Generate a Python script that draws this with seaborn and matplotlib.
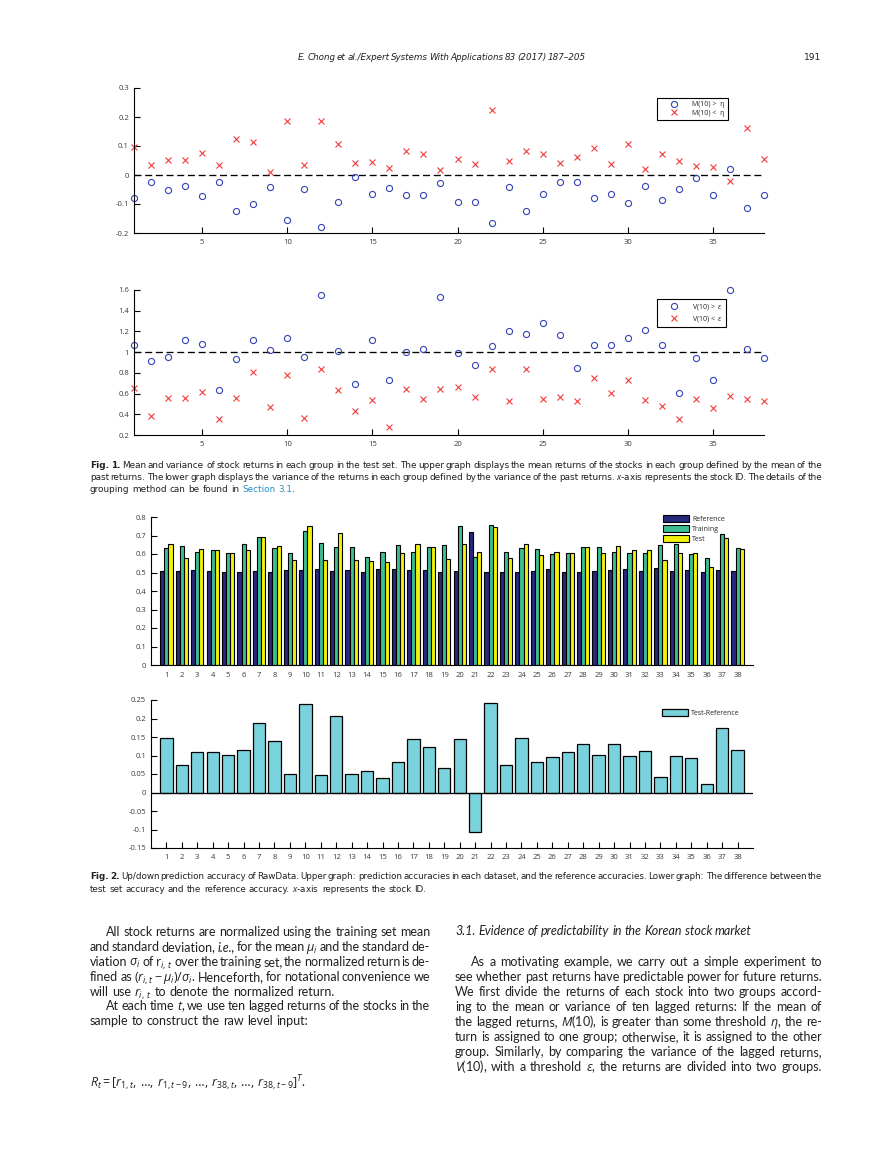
import numpy as np
import pandas as pd
import matplotlib
matplotlib.use("Agg")
import matplotlib.pyplot as plt
import seaborn as sns
from matplotlib.transforms import IdentityTransform

# ---------------- data ----------------
stock_ids = np.arange(1, 39)
stock_labels = [str(i) for i in stock_ids]

mean_above = [-0.080, -0.023, -0.051, -0.038, -0.074, -0.023, -0.125, -0.099, -0.040, -0.155,
              -0.047, -0.178, -0.094, -0.008, -0.067, -0.045, -0.068, -0.068, -0.029, -0.092,
              -0.092, -0.164, -0.043, -0.125, -0.067, -0.024, -0.025, -0.080, -0.067, -0.097,
              -0.038, -0.086, -0.047, -0.010, -0.068, 0.021, -0.113, -0.068]
mean_below = [0.095, 0.034, 0.053, 0.053, 0.077, 0.034, 0.124, 0.114, 0.009, 0.187,
              0.036, 0.187, 0.106, 0.043, 0.045, 0.025, 0.082, 0.074, 0.018, 0.056,
              0.037, 0.225, 0.049, 0.082, 0.071, 0.040, 0.063, 0.092, 0.037, 0.108,
              0.021, 0.072, 0.047, 0.032, 0.028, -0.020, 0.162, 0.056]

var_above = [1.068, 0.916, 0.955, 1.116, 1.077, 0.630, 0.936, 1.122, 1.023, 1.141,
             0.955, 1.550, 1.010, 0.695, 1.116, 0.727, 0.997, 1.029, 1.534, 0.994,
             0.878, 1.058, 1.206, 1.180, 1.286, 1.167, 0.846, 1.071, 1.071, 1.141,
             1.215, 1.071, 0.608, 0.945, 0.733, 1.601, 1.029, 0.945]
var_below = [0.656, 0.386, 0.556, 0.556, 0.617, 0.357, 0.559, 0.807, 0.466, 0.775,
             0.360, 0.839, 0.630, 0.428, 0.537, 0.277, 0.643, 0.550, 0.643, 0.659,
             0.563, 0.833, 0.524, 0.839, 0.543, 0.563, 0.530, 0.749, 0.604, 0.730,
             0.534, 0.482, 0.357, 0.550, 0.460, 0.579, 0.547, 0.524]

acc_reference = [0.507, 0.507, 0.513, 0.507, 0.502, 0.502, 0.507, 0.502, 0.513, 0.513,
                 0.518, 0.507, 0.513, 0.502, 0.518, 0.518, 0.513, 0.513, 0.502, 0.507,
                 0.718, 0.502, 0.502, 0.502, 0.507, 0.518, 0.502, 0.502, 0.507, 0.513,
                 0.518, 0.507, 0.523, 0.507, 0.513, 0.502, 0.513, 0.507]
acc_training = [0.631, 0.642, 0.613, 0.620, 0.604, 0.653, 0.694, 0.631, 0.604, 0.727,
                0.662, 0.637, 0.637, 0.586, 0.613, 0.647, 0.613, 0.637, 0.647, 0.750,
                0.586, 0.755, 0.613, 0.631, 0.626, 0.599, 0.608, 0.637, 0.637, 0.613,
                0.608, 0.608, 0.647, 0.653, 0.599, 0.576, 0.707, 0.631]
acc_test = [0.653, 0.576, 0.626, 0.620, 0.608, 0.620, 0.694, 0.642, 0.567, 0.750,
            0.567, 0.716, 0.567, 0.561, 0.556, 0.604, 0.656, 0.637, 0.572, 0.653,
            0.613, 0.745, 0.576, 0.653, 0.592, 0.613, 0.608, 0.637, 0.608, 0.642,
            0.620, 0.620, 0.567, 0.604, 0.604, 0.529, 0.685, 0.626]
test_minus_ref = [0.148, 0.073, 0.110, 0.110, 0.102, 0.116, 0.189, 0.140, 0.051, 0.240,
                  0.048, 0.207, 0.051, 0.059, 0.038, 0.083, 0.145, 0.124, 0.067, 0.145,
                  -0.107, 0.242, 0.073, 0.148, 0.083, 0.097, 0.110, 0.132, 0.102, 0.132,
                  0.100, 0.113, 0.043, 0.100, 0.092, 0.024, 0.175, 0.116]

datasets = ["Reference", "Training", "Test"]

mean_yticks = [-0.2, -0.1, 0, 0.1, 0.2, 0.3]
mean_yticklabels = ["-0.2", "-0.1", "0", "0.1", "0.2", "0.3"]
var_yticks = [0.2, 0.4, 0.6, 0.8, 1.0, 1.2, 1.4, 1.6]
var_yticklabels = ["0.2", "0.4", "0.6", "0.8", "1", "1.2", "1.4", "1.6"]
scatter_xticks = [5, 10, 15, 20, 25, 30, 35]
acc_yticks = [0, 0.1, 0.2, 0.3, 0.4, 0.5, 0.6, 0.7, 0.8]
acc_yticklabels = ["0", "0.1", "0.2", "0.3", "0.4", "0.5", "0.6", "0.7", "0.8"]
diff_yticks = [-0.15, -0.1, -0.05, 0, 0.05, 0.1, 0.15, 0.2, 0.25]
diff_yticklabels = ["-0.15", "-0.1", "-0.05", "0", "0.05", "0.1", "0.15", "0.2", "0.25"]

# ---------------- text ----------------
header_text = "E. Chong et al./Expert Systems With Applications 83 (2017) 187–205"
page_number = "191"

caption1 = [
    ("B|Fig. B|1. Mean and variance of stock returns in each group in the test set. The upper graph displays the mean returns of the stocks in each group defined by the mean of the", 0, True),
    ("past returns. The lower graph displays the variance of the returns in each group defined by the variance of the past returns. $x$-axis represents the stock ID. The details of the", 0, True),
    ("grouping method can be found in C|Section C|3.1^^.", 0, False),
]
caption2 = [
    ("B|Fig. B|2. Up/down prediction accuracy of RawData. Upper graph: prediction accuracies in each dataset, and the reference accuracies. Lower graph: The difference between the", 0, True),
    ("test set accuracy and the reference accuracy. $x$-axis represents the stock ID.", 0, False),
]
left_body = [
    ("All stock returns are normalized using the training set mean", 16, True),
    ("and standard deviation, I|i.e., for the mean $\\mu_i$ and the standard de-", 0, True),
    ("viation $\\sigma_i$ of $\\mathrm{r}_{i,\\,t}$ over the training set, the normalized return is de-", 0, True),
    ("fined as $(r_{i,t}-\\mu_i)/\\sigma_i$. Henceforth, for notational convenience we", 0, True),
    ("will use $r_{i,\\,t}$ to denote the normalized return.", 0, False),
    ("At each time $t$, we use ten lagged returns of the stocks in the", 16, True),
    ("sample to construct the raw level input:", 0, False),
]
equation = "$R_t=[r_{1,t},\\,\\ldots,\\,r_{1,t-9},\\,\\ldots,\\,r_{38,t},\\,\\ldots,\\,r_{38,t-9}]^T$."
section_heading = [("3.1. Evidence of predictability in the Korean stock market", 0, False)]
right_body = [
    ("As a motivating example, we carry out a simple experiment to", 16, True),
    ("see whether past returns have predictable power for future returns.", 0, True),
    ("We first divide the returns of each stock into two groups accord-", 0, True),
    ("ing to the mean or variance of ten lagged returns: If the mean of", 0, True),
    ("the lagged returns, $M$(10), is greater than some threshold $\\eta$, the re-", 0, True),
    ("turn is assigned to one group; otherwise, it is assigned to the other", 0, True),
    ("group. Similarly, by comparing the variance of the lagged returns,", 0, True),
    ("$V$(10), with a threshold $\\epsilon$, the returns are divided into two groups.", 0, True),
]

# ---------------- style ----------------
W, H = 869, 1158
BLUE = "#3443b8"
RED = "#f03a3a"
BAR_COLORS = ["#28287c", "#3ebf91", "#f2f20c"]
DIFF_COLOR = "#7ad3dc"
TXT = "#231f20"
LINK = "#2a8cc4"
TICKC = "#3a3a3a"
TICK_FONT = ["Open Sans", "DejaVu Sans"]
BODY_FONT = ["Lato", "Open Sans", "DejaVu Sans"]
CAP_FONT = ["Liberation Sans Narrow", "DejaVu Sans Condensed", "DejaVu Sans"]
TICKSIZE = 5.5

sns.set_theme(style="ticks")
plt.rcParams.update({
    "font.family": TICK_FONT,
    "axes.edgecolor": "black",
    "axes.linewidth": 0.8,
    "axes.unicode_minus": False,
    "mathtext.fontset": "custom",
    "mathtext.rm": "Open Sans",
    "mathtext.it": "Open Sans:italic",
    "mathtext.bf": "Open Sans:bold",
    "mathtext.fallback": "stixsans",
    "figure.facecolor": "white",
})

fig = plt.figure(figsize=(W / 100, H / 100), dpi=100)
renderer = fig.canvas.get_renderer()
IDT = IdentityTransform()


def px_axes(l, t, r, b):
    return fig.add_axes([l / W, 1 - b / H, (r - l) / W, (b - t) / H])


def style_axes(ax, xpad, ypad, xlen=4.3):
    sns.despine(ax=ax)
    ax.set_facecolor("none")
    ax.tick_params(axis="both", direction="in", width=0.8, color="black",
                   labelcolor=TICKC, labelsize=TICKSIZE)
    ax.tick_params(axis="x", length=xlen, pad=xpad)
    ax.tick_params(axis="y", length=4.3, pad=ypad)
    ax.set_xlabel("")
    ax.set_ylabel("")


# ---------- Fig 1 upper: mean ----------
ax1 = px_axes(134, 88, 764, 233)
sns.lineplot(x=stock_ids, y=mean_above, ax=ax1, color=BLUE, marker="o", linestyle="none",
             mfc="none", mec=BLUE, mew=0.8, ms=4.4, errorbar=None, sort=False,
             label="M(10) >  η", clip_on=False)
sns.lineplot(x=stock_ids, y=mean_below, ax=ax1, color=RED, marker="x", linestyle="none",
             mec=RED, mew=0.8, ms=4.0, errorbar=None, sort=False,
             label="M(10) <  η", clip_on=False)
ax1.axhline(0, color="black", lw=0.95, ls=(0, (5.3, 2.8)), zorder=1)
ax1.set_xlim(1, 38)
ax1.set_ylim(-0.2, 0.3)
ax1.set_xticks(scatter_xticks)
ax1.set_yticks(mean_yticks, mean_yticklabels)
style_axes(ax1, xpad=4.6, ypad=3.6)

leg_kw = dict(loc="upper left", bbox_transform=fig.transFigure, frameon=True, fancybox=False,
              edgecolor="black", fontsize=5, handlelength=4.0, handletextpad=0.6,
              borderpad=0.45, labelspacing=0.2, borderaxespad=0, framealpha=1)
leg1 = ax1.legend(bbox_to_anchor=(657 / W, 1 - 98 / H), **leg_kw)
leg1.get_frame().set_linewidth(0.8)

# ---------- Fig 1 lower: variance ----------
ax2 = px_axes(134, 290, 764, 435)
sns.lineplot(x=stock_ids, y=var_above, ax=ax2, color=BLUE, marker="o", linestyle="none",
             mfc="none", mec=BLUE, mew=0.8, ms=4.4, errorbar=None, sort=False,
             label="V(10) >  $\\epsilon$", clip_on=False)
sns.lineplot(x=stock_ids, y=var_below, ax=ax2, color=RED, marker="x", linestyle="none",
             mec=RED, mew=0.8, ms=4.0, errorbar=None, sort=False,
             label="V(10) <  $\\epsilon$", clip_on=False)
ax2.axhline(1, color="black", lw=0.95, ls=(0, (5.3, 2.8)), zorder=1)
ax2.set_xlim(1, 38)
ax2.set_ylim(0.2, 1.6)
ax2.set_xticks(scatter_xticks)
ax2.set_yticks(var_yticks, var_yticklabels)
style_axes(ax2, xpad=4.3, ypad=3.6)
leg2 = ax2.legend(bbox_to_anchor=(657 / W, 1 - 299 / H), **leg_kw)
leg2.get_frame().set_linewidth(0.8)

# ---------- Fig 2 upper: accuracies ----------
acc_long = pd.DataFrame({
    "stock": stock_labels * 3,
    "dataset": [d for d in datasets for _ in stock_labels],
    "accuracy": acc_reference + acc_training + acc_test,
})
ax3 = px_axes(151, 517, 753, 665)
sns.barplot(data=acc_long, x="stock", y="accuracy", hue="dataset", order=stock_labels,
            hue_order=datasets, palette=BAR_COLORS, saturation=1, width=0.8,
            edgecolor="black", linewidth=0.8, errorbar=None, ax=ax3)
ax3.set_xlim(-1, 38)
ax3.set_ylim(0, 0.8)
ax3.set_yticks(acc_yticks, acc_yticklabels)
style_axes(ax3, xpad=4.8, ypad=3.6, xlen=0)
old = ax3.get_legend()
h3 = list(old.legend_handles)
l3 = [t.get_text() for t in old.get_texts()]
old.remove()
for hh in h3:
    hh.set_edgecolor("black")
    hh.set_linewidth(0.8)
bar_leg_kw = dict(loc="upper left", bbox_transform=fig.transFigure, frameon=False,
                  fontsize=5, handlelength=3.75, handleheight=1.15, handletextpad=0.45,
                  borderpad=0, labelspacing=0.3, borderaxespad=0)
ax3.legend(h3, l3, bbox_to_anchor=(663 / W, 1 - 515 / H), **bar_leg_kw)

# ---------- Fig 2 lower: difference ----------
ax4 = px_axes(151, 700, 753, 848)
sns.barplot(x=stock_labels, y=test_minus_ref, order=stock_labels, color=DIFF_COLOR,
            saturation=1, width=0.8, edgecolor="black", linewidth=0.9, errorbar=None,
            label="Test-Reference", ax=ax4)
ax4.axhline(0, color="black", lw=0.9, zorder=3)
ax4.set_xlim(-1, 38)
ax4.set_ylim(-0.15, 0.25)
ax4.set_yticks(diff_yticks, diff_yticklabels)
style_axes(ax4, xpad=4.0, ypad=3.6)
ax4.legend(bbox_to_anchor=(662 / W, 1 - 709 / H), **bar_leg_kw)

# ---------------- page text ----------------
def make_word(word, size, family, style, color):
    arts = []
    for s in word.split("^^"):
        kw = dict(fontsize=size, family=family, style=style, color=color, weight="normal")
        while len(s) > 2 and s[1] == "|" and s[0] in "BCI":
            code, s = s[0], s[2:]
            if code == "B":
                kw["weight"] = "bold"
            elif code == "C":
                kw["color"] = LINK
            else:
                kw["style"] = "italic"
        arts.append(fig.text(0, 0, s, transform=IDT, va="baseline", ha="left", **kw))
    return arts


def width_of(a):
    return a.get_window_extent(renderer).width


def space_width(size, family, style):
    a = fig.text(0, 0, "a a", fontsize=size, family=family, style=style, transform=IDT)
    b = fig.text(0, 0, "aa", fontsize=size, family=family, style=style, transform=IDT)
    w = width_of(a) - width_of(b)
    a.remove()
    b.remove()
    return w


def draw_block(lines, x0, x1, y0, dy, size, family, style="normal", color=TXT, min_gap=0.45):
    while True:
        sp = space_width(size, family, style)
        placed, ok = [], True
        for text, ind, just in lines:
            words = [make_word(w, size, family, style, color) for w in text.split(" ")]
            widths = [[width_of(a) for a in ws] for ws in words]
            wtot = [sum(w) for w in widths]
            placed.append((words, widths, wtot, ind, just))
            avail = x1 - x0 - ind
            n = len(words)
            if just and n > 1:
                if (avail - sum(wtot)) / (n - 1) < min_gap * sp:
                    ok = False
            elif sum(wtot) + sp * (n - 1) > avail:
                ok = False
        if ok or size < 3:
            break
        for p in placed:
            for ws in p[0]:
                for a in ws:
                    a.remove()
        size *= 0.985
    for i, (words, widths, wtot, ind, just) in enumerate(placed):
        y = H - (y0 + i * dy)
        n = len(words)
        gap = (x1 - x0 - ind - sum(wtot)) / (n - 1) if (just and n > 1) else sp
        x = x0 + ind
        for ws, wl, wt in zip(words, widths, wtot):
            xx = x
            for a, w in zip(ws, wl):
                a.set_position((xx, y))
                xx += w
            x += wt + gap
    return size


draw_block([(header_text, 0, True)], 298, 586, 60, 0, 6.6, CAP_FONT, style="italic")
fig.text(821, H - 60, page_number, transform=IDT, ha="right", va="baseline",
         fontsize=6.6, family=CAP_FONT, color=TXT)

draw_block(caption1, 90, 822, 468, 12, 6.9, CAP_FONT)
draw_block(caption2, 90, 822, 879, 12.5, 6.9, CAP_FONT)

left_size = draw_block(left_body, 90, 430, 936, 14.9, 9.0, BODY_FONT)
fig.text(90, H - 1087, equation, transform=IDT, ha="left", va="baseline",
         fontsize=left_size, family=BODY_FONT, color=TXT)
right_size = draw_block(right_body, 455, 822, 965.5, 15.05, 9.0, BODY_FONT)
draw_block(section_heading, 455, 822, 935, 0, right_size, BODY_FONT, style="italic")

fig.savefig("out.png", dpi=100, facecolor="white")
